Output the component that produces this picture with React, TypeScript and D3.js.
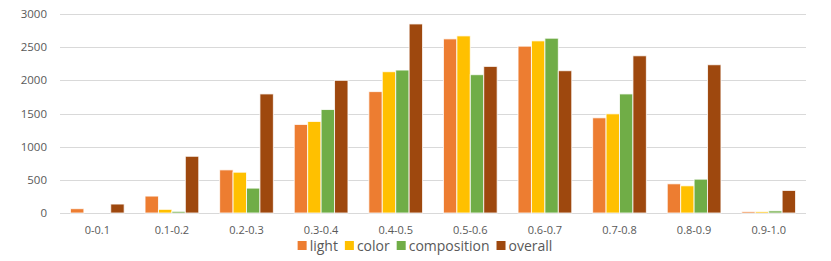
import React, { useRef, useEffect } from "react";
import * as d3 from "d3";

// score bins along the x axis
const categories = ["0-0.1", "0.1-0.2", "0.2-0.3", "0.3-0.4", "0.4-0.5", "0.5-0.6", "0.6-0.7", "0.7-0.8", "0.8-0.9", "0.9-1.0"];

const seriesNames = ["light", "color", "composition", "overall"];
const seriesColors = ["#ED7D31", "#FFC000", "#70AD47", "#9E480E"];

// counts per bin
const lightValues = [65, 255, 650, 1335, 1830, 2625, 2515, 1435, 440, 22];
const colorValues = [0, 55, 615, 1380, 2130, 2670, 2595, 1495, 410, 22];
const compositionValues = [0, 25, 375, 1560, 2155, 2085, 2635, 1795, 510, 32];
const overallValues = [135, 855, 1795, 2000, 2850, 2210, 2145, 2370, 2235, 340];

const yTicks = [0, 500, 1000, 1500, 2000, 2500, 3000];

const App = () => {
    const ref = useRef<SVGSVGElement>(null);

    const W = 831;
    const H = 261;
    const margin = { top: 14, right: 25, bottom: 48, left: 60 };
    const fontFamily = "'Open Sans', sans-serif";

    useEffect(() => {
        const svg = d3.select(ref.current);
        svg.selectAll("*").remove();

        const allSeries = [lightValues, colorValues, compositionValues, overallValues];

        const x = d3.scaleBand()
            .domain(categories)
            .range([margin.left, W - margin.right])
            .paddingInner(0.28)
            .paddingOuter(0.14);

        const xInner = d3.scaleBand()
            .domain(seriesNames)
            .range([0, x.bandwidth()])
            .padding(0);

        const y = d3.scaleLinear()
            .domain([0, 3000])
            .range([H - margin.bottom, margin.top]);

        // gridlines
        svg.append("g")
            .selectAll("line")
            .data(yTicks)
            .join("line")
            .attr("x1", margin.left)
            .attr("x2", W - margin.right)
            .attr("y1", (d) => Math.round(y(d)) + 0.5)
            .attr("y2", (d) => Math.round(y(d)) + 0.5)
            .attr("stroke", "#D9D9D9")
            .attr("stroke-width", 1);

        // y tick labels
        svg.append("g")
            .selectAll("text")
            .data(yTicks)
            .join("text")
            .attr("x", 47)
            .attr("y", (d) => y(d))
            .attr("dy", "0.35em")
            .attr("text-anchor", "end")
            .attr("font-family", fontFamily)
            .attr("font-size", 11.5)
            .attr("fill", "#595959")
            .text((d) => d);

        // bars
        const groups = svg.append("g")
            .selectAll("g")
            .data(categories)
            .join("g")
            .attr("transform", (d) => "translate(" + x(d) + ",0)");

        groups.selectAll("rect")
            .data((d, i) => seriesNames.map((s, j) => ({ series: s, color: seriesColors[j], value: allSeries[j][i] })))
            .join("rect")
            .attr("x", (d) => xInner(d.series)!)
            .attr("width", xInner.bandwidth())
            .attr("y", (d) => y(d.value))
            .attr("height", (d) => y(0) - y(d.value))
            .attr("fill", (d) => d.color)
            .attr("stroke", "#ffffff")
            .attr("stroke-opacity", 0.8)
            .attr("stroke-width", 1)
            .style("display", (d) => (d.value > 0 ? null : "none"));

        // category labels
        svg.append("g")
            .selectAll("text")
            .data(categories)
            .join("text")
            .attr("x", (d) => x(d)! + x.bandwidth() / 2)
            .attr("y", 234)
            .attr("text-anchor", "middle")
            .attr("font-family", fontFamily)
            .attr("font-size", 11)
            .attr("fill", "#595959")
            .text((d) => d);

        // legend, laid out left to right then centered
        const legend = svg.append("g");
        let cursor = 0;
        seriesNames.forEach((name, i) => {
            const item = legend.append("g").attr("transform", "translate(" + cursor + ",0)");
            item.append("rect")
                .attr("x", 0)
                .attr("y", -10)
                .attr("width", 9)
                .attr("height", 9)
                .attr("fill", seriesColors[i]);
            const t = item.append("text")
                .attr("x", 12)
                .attr("y", 0)
                .attr("font-family", fontFamily)
                .attr("font-size", 14)
                .attr("fill", "#595959")
                .text(name);
            const len = (t.node() as SVGTextElement).getComputedTextLength();
            cursor += 12 + len + 7;
        });
        const legendWidth = cursor - 7;
        legend.attr("transform", "translate(" + (425 - legendWidth / 2) + ",251)");
    }, []);

    return (
        <svg ref={ref} width={W} height={H} style={{ position: "absolute", left: 0, top: 0 }} />
    );
};

export default App;
